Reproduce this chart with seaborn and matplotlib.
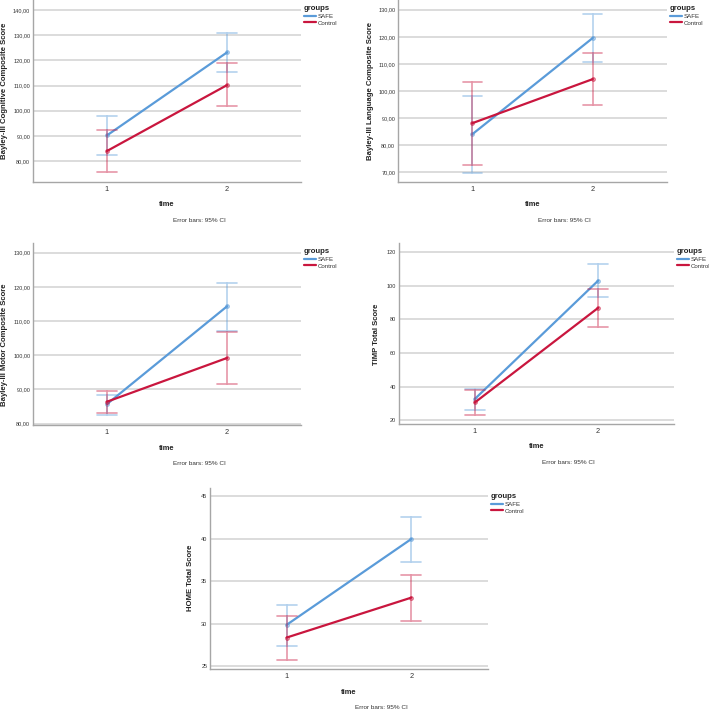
import numpy as np
import pandas as pd
import matplotlib
matplotlib.use("Agg")
import matplotlib.pyplot as plt
import seaborn as sns
from matplotlib.lines import Line2D
from matplotlib.ticker import FuncFormatter
from matplotlib.colors import to_rgba

sns.set_style("white")
plt.rcParams["font.family"] = ["Liberation Sans", "DejaVu Sans"]

# ---------------- data ----------------
time_labels = ["1", "2"]
groups = ["SAFE", "Control"]

cog_safe_mean = [90.2, 123.2]
cog_safe_lo = [82.5, 115.4]
cog_safe_hi = [98.0, 130.9]
cog_ctrl_mean = [84.0, 110.2]
cog_ctrl_lo = [75.5, 101.9]
cog_ctrl_hi = [92.3, 118.8]

lang_safe_mean = [84.0, 119.6]
lang_safe_lo = [69.9, 110.7]
lang_safe_hi = [98.0, 128.5]
lang_ctrl_mean = [88.1, 104.4]
lang_ctrl_lo = [72.8, 94.8]
lang_ctrl_hi = [103.3, 114.1]

mot_safe_mean = [85.7, 114.3]
mot_safe_lo = [82.5, 107.2]
mot_safe_hi = [88.5, 121.2]
mot_ctrl_mean = [86.4, 99.2]
mot_ctrl_lo = [83.1, 91.7]
mot_ctrl_hi = [89.6, 106.7]

timp_safe_mean = [32.7, 103.1]
timp_safe_lo = [26.3, 93.3]
timp_safe_hi = [38.8, 112.9]
timp_ctrl_mean = [30.6, 86.9]
timp_ctrl_lo = [23.1, 75.6]
timp_ctrl_hi = [37.9, 98.0]

home_safe_mean = [29.9, 40.0]
home_safe_lo = [27.4, 37.3]
home_safe_hi = [32.2, 42.6]
home_ctrl_mean = [28.4, 33.1]
home_ctrl_lo = [25.8, 30.3]
home_ctrl_hi = [30.9, 35.8]

ylabels = [
    "Bayley-III Cognitive Composite Score",
    "Bayley-III Language Composite Score",
    "Bayley-III Motor Composite Score",
    "TIMP Total Score",
    "HOME Total Score",
]
yticks_list = [
    [80, 90, 100, 110, 120, 130, 140],
    [70, 80, 90, 100, 110, 120, 130],
    [80, 90, 100, 110, 120, 130],
    [20, 40, 60, 80, 100, 120],
    [25, 30, 35, 40, 45],
]

# ---------------- styling / layout ----------------
W, H = 709, 710
BLUE = "#5A9BD9"
RED = "#C9163E"
GRID = "#D9D9D9"
AXC = "#A6A6A6"
TXT = "#333333"

# pixel boxes: left, top, right, bottom ; ylim ; ylabel centre (x, y) ; decimals
layout = [
    dict(box=(33, 0, 301, 182), ylim=(71.7, 144.0), lab=(4.5, 90.5), dec=True),
    dict(box=(398, 0, 667, 182), ylim=(66.4, 133.6), lab=(370, 91), dec=True),
    dict(box=(33, 243, 301, 425), ylim=(79.6, 132.8), lab=(5, 344.7), dec=True),
    dict(box=(399, 243, 674, 424), ylim=(17.8, 125.5), lab=(377, 334), dec=False),
    dict(box=(210, 488, 488, 669), ylim=(24.7, 46.0), lab=(190.5, 578), dec=False),
]

series = [
    (cog_safe_mean, cog_safe_lo, cog_safe_hi, cog_ctrl_mean, cog_ctrl_lo, cog_ctrl_hi),
    (lang_safe_mean, lang_safe_lo, lang_safe_hi, lang_ctrl_mean, lang_ctrl_lo, lang_ctrl_hi),
    (mot_safe_mean, mot_safe_lo, mot_safe_hi, mot_ctrl_mean, mot_ctrl_lo, mot_ctrl_hi),
    (timp_safe_mean, timp_safe_lo, timp_safe_hi, timp_ctrl_mean, timp_ctrl_lo, timp_ctrl_hi),
    (home_safe_mean, home_safe_lo, home_safe_hi, home_ctrl_mean, home_ctrl_lo, home_ctrl_hi),
]


def build_df(sm, slo, shi, cm, clo, chi):
    rows = []
    for g, (m, lo, hi) in zip(groups, [(sm, slo, shi), (cm, clo, chi)]):
        for i, t in enumerate(time_labels):
            for v in (lo[i], m[i], hi[i]):
                rows.append({"time": t, "groups": g, "score": v})
    return pd.DataFrame(rows)


fig = plt.figure(figsize=(W / 100, H / 100), dpi=100)

for k, (spec, data) in enumerate(zip(layout, series)):
    l, t, r, b = spec["box"]
    ax = fig.add_axes([l / W, 1 - b / H, (r - l) / W, (b - t) / H])
    df = build_df(*data)
    ax.set_axisbelow(True)
    sns.pointplot(
        data=df, x="time", y="score", hue="groups", hue_order=groups,
        order=time_labels, palette=[BLUE, RED], estimator=np.median,
        errorbar=("pi", 100), capsize=0.16, markers="o", markersize=2.6,
        linewidth=1.6, err_kws={"alpha": 0.45, "linewidth": 1.2},
        legend=False, ax=ax,
    )
    # lighter, semi-open markers as in the SPSS output
    for ln in ax.lines:
        if ln.get_marker() == "o":
            c = ln.get_color()
            ln.set_markerfacecolor(to_rgba(c, 0.35))
            ln.set_markeredgecolor(to_rgba(c, 0.6))
            ln.set_markeredgewidth(0.8)
    ax.set_xlim(-0.615, 1.615)
    ax.set_ylim(*spec["ylim"])
    ax.set_yticks(yticks_list[k])
    if spec["dec"]:
        ax.yaxis.set_major_formatter(FuncFormatter(lambda v, p: f"{v:.2f}".replace(".", ",")))
    else:
        ax.yaxis.set_major_formatter(FuncFormatter(lambda v, p: f"{v:.0f}"))
    ax.grid(axis="y", color=GRID, linewidth=1.3)
    ax.grid(axis="x", visible=False)
    for s in ("top", "right"):
        ax.spines[s].set_visible(False)
    for s in ("left", "bottom"):
        ax.spines[s].set_color(AXC)
        ax.spines[s].set_linewidth(1.0)
    ax.tick_params(axis="y", length=0, pad=2, labelsize=4, labelcolor=TXT)
    ax.tick_params(axis="x", length=0, pad=3, labelsize=5.3, labelcolor=TXT)

    ax.set_xlabel("")
    ax.set_ylabel(ylabels[k], fontsize=5.6, fontweight="bold", color="#222222", va="center")
    lx, ly = spec["lab"]
    ax.yaxis.set_label_coords((lx - l) / (r - l), 1 - (ly - t) / (b - t))

    wpx, hpx = r - l, b - t
    ax.text(0.5, -23 / hpx, "time", transform=ax.transAxes, ha="center", va="center",
            fontsize=5.4, fontweight="bold", color="#222222")
    ax.text(0.5 + 32 / wpx, -38.5 / hpx, "Error bars: 95% CI", transform=ax.transAxes,
            ha="center", va="center", fontsize=4.6, color=TXT)

    handles = [Line2D([], [], color=BLUE, lw=1.6), Line2D([], [], color=RED, lw=1.6)]
    leg = ax.legend(
        handles, groups, title="groups", loc="upper left",
        bbox_to_anchor=(1 + 2.5 / wpx, 1 - 5 / hpx), frameon=False,
        fontsize=4.4, title_fontproperties={"weight": "bold", "size": 5.6},
        handlelength=2.1, handletextpad=0.25, labelspacing=0.25,
        borderpad=0, borderaxespad=0,
    )
    leg._legend_box.align = "left"
    for txt in leg.get_texts():
        txt.set_color(TXT)
    leg.get_title().set_color("#222222")
    leg.set_clip_on(False)

fig.savefig("out.png", dpi=100)
